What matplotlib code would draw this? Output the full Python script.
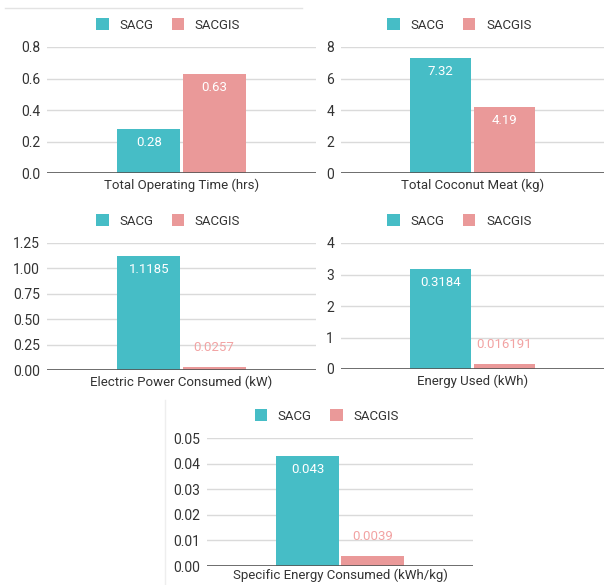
import matplotlib
matplotlib.use('agg')
import matplotlib.pyplot as plt
from matplotlib.patches import Patch
from matplotlib.lines import Line2D
import numpy as np

plt.rcParams['font.family'] = ['Roboto', 'DejaVu Sans']
plt.rcParams['font.size'] = 9.5

series = ['SACG', 'SACGIS']

time_hrs = [0.28, 0.63]
coconut_kg = [7.32, 4.19]
power_kw = [1.1185, 0.0257]
energy_kwh = [3.184, 0.16191]          # bar heights as drawn
energy_labels = ['0.3184', '0.016191']  # labels as printed on the chart
specific_kwh_kg = [0.043, 0.0039]

colors = ['#46bdc6', '#ea9999']
label_above = '#f2a3a3'
grid_c = '#dadada'
text_c = '#333333'
fs = 9.5

W, H = 604, 585
fig = plt.figure(figsize=(W / 100, H / 100), dpi=100)


def px_rect(x0, x1, ytop, ybot):
    return [x0 / W, 1 - ybot / H, (x1 - x0) / W, (ybot - ytop) / H]


def bar_panel(rect, values, labels, xlabel, ticks, fmt, inside_min, lpad=4):
    ax = fig.add_axes(rect)
    width = 0.47
    xs = [-width / 2 - 0.008, width / 2 + 0.008]
    ymax = ticks[-1]
    for x, v, lab, c in zip(xs, values, labels, colors):
        ax.bar(x, v, width=width, color=c, zorder=3)
        if v / ymax >= inside_min:
            ax.annotate(lab, (x, v), xytext=(0, -5), textcoords='offset points',
                        ha='center', va='top', color='white', fontsize=fs, zorder=4)
        else:
            ax.annotate(lab, (x, v), xytext=(0, 14), textcoords='offset points',
                        ha='center', va='center', color=label_above, fontsize=fs, zorder=4)
    ax.set_xlim(-1, 1)
    ax.set_ylim(0, ymax)
    ax.set_yticks(ticks)
    ax.set_yticklabels([fmt % t for t in ticks])
    ax.set_xticks([])
    ax.yaxis.grid(True, color=grid_c, linewidth=1, zorder=0)
    ax.axhline(0, color='#555555', linewidth=1.2, zorder=5)
    for s in ax.spines.values():
        s.set_visible(False)
    ax.tick_params(axis='y', length=0, pad=5, colors=text_c, labelsize=fs + 0.5)
    ax.set_xlabel(xlabel, color=text_c, fontsize=fs, labelpad=lpad)
    handles = [Patch(facecolor=c, edgecolor='none') for c in colors]
    ax.legend(handles, series, loc='center', ncol=2, frameon=False,
              bbox_to_anchor=(0.45, 1 + 22 / (rect[3] * H)),
              handlelength=0.95, handleheight=0.95, handletextpad=0.8,
              columnspacing=1.4, fontsize=fs, labelcolor=text_c,
              borderaxespad=0, borderpad=0)
    return ax


bar_panel(px_rect(47, 316, 47, 173), time_hrs, ['0.28', '0.63'],
          'Total Operating Time (hrs)', [0, 0.2, 0.4, 0.6, 0.8], '%.1f', 0.2)
bar_panel(px_rect(341, 604, 47, 173), coconut_kg, ['7.32', '4.19'],
          'Total Coconut Meat (kg)', [0, 2, 4, 6, 8], '%d', 0.2)
bar_panel(px_rect(47, 316, 243, 370), power_kw, ['1.1185', '0.0257'],
          'Electric Power Consumed (kW)', [0, 0.25, 0.5, 0.75, 1.0, 1.25], '%.2f', 0.2)
bar_panel(px_rect(341, 604, 243, 369), energy_kwh, energy_labels,
          'Energy Used (kWh)', [0, 1, 2, 3, 4], '%d', 0.2)
bar_panel(px_rect(207, 473, 438, 566), specific_kwh_kg, ['0.043', '0.0039'],
          'Specific Energy Consumed (kWh/kg)', [0, 0.01, 0.02, 0.03, 0.04, 0.05], '%.2f', 0.2,
          lpad=2)

# faint frame lines left over from the screenshot
fig.add_artist(Line2D([5 / W, 302 / W], [1 - 8 / H, 1 - 8 / H], color='#e3e3e3', linewidth=1))
fig.add_artist(Line2D([165 / W, 165 / W], [1 - 400 / H, 0], color='#eeeeee', linewidth=1))

fig.savefig('out.png', dpi=100)
